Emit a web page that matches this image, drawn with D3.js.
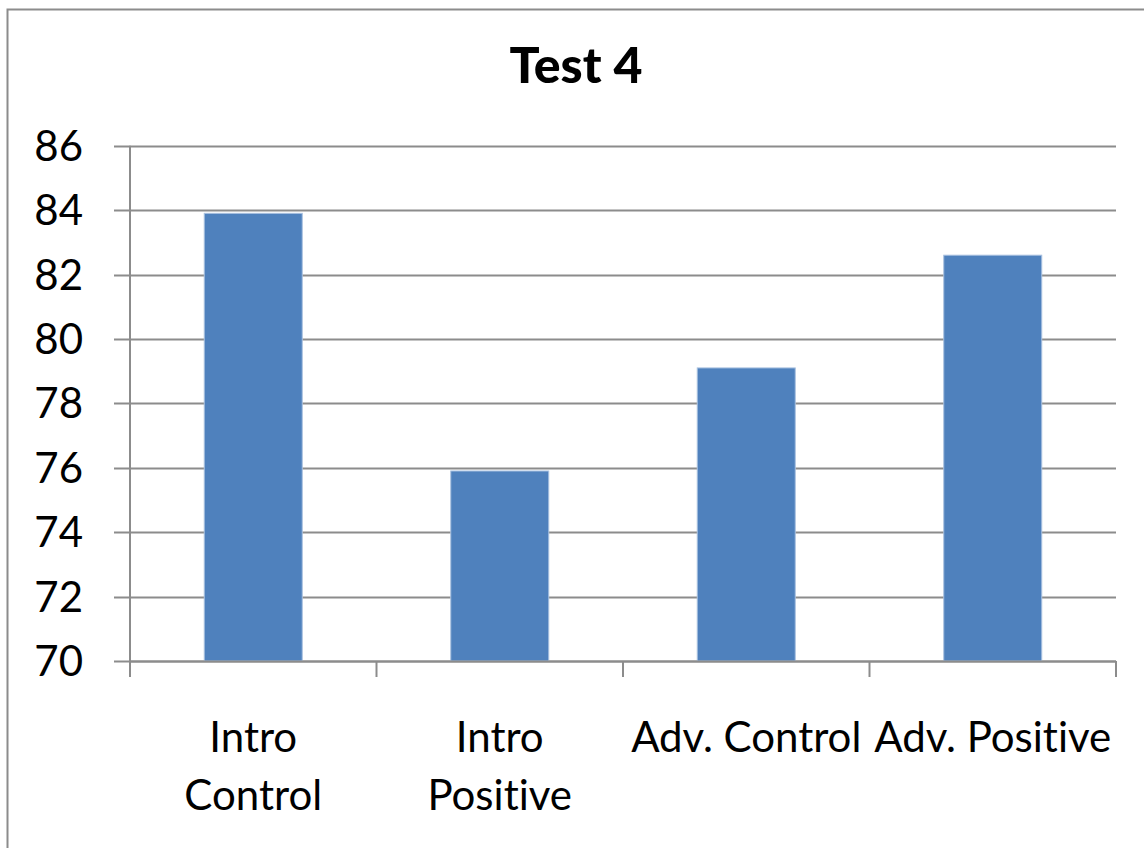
<!DOCTYPE html>
<html>
<head>
<meta charset="utf-8">
<script src="https://cdn.jsdelivr.net/npm/d3@7"></script>
<style>
  html, body { margin: 0; padding: 0; background: #fff; }
  svg { display: block; }
  text { font-family: Lato, "Open Sans", sans-serif; fill: #000; font-variant-ligatures: none; font-feature-settings: "liga" 0; }
</style>
</head>
<body>
<svg id="chart" width="1144" height="848"></svg>
<script>
const title = "Test 4";
const categories = ["Intro Control", "Intro Positive", "Adv. Control", "Adv. Positive"];
const categoryLabelLines = [["Intro", "Control"], ["Intro", "Positive"], ["Adv. Control"], ["Adv. Positive"]];
const values = [83.9, 75.9, 79.1, 82.6];
const yTicks = [70, 72, 74, 76, 78, 80, 82, 84, 86];

const svg = d3.select("#chart");
const W = 1144, H = 848;
const plot = { left: 130, right: 1116, top: 145.7, bottom: 661 };
const gridColor = "#8c8c8c";

// chart border
svg.append("rect")
  .attr("x", 7.5).attr("y", 9.5)
  .attr("width", W).attr("height", H)
  .attr("fill", "#fff").attr("stroke", "#8c8c8c").attr("stroke-width", 2);

const x = d3.scaleBand().domain(categories).range([plot.left, plot.right]).paddingInner(0).paddingOuter(0);
const y = d3.scaleLinear().domain([70, 86]).range([plot.bottom, plot.top]);

// gridlines
svg.append("g").selectAll("line").data(yTicks).join("line")
  .attr("x1", plot.left - 16).attr("x2", plot.right)
  .attr("y1", d => Math.round(y(d)) + 0.5).attr("y2", d => Math.round(y(d)) + 0.5)
  .attr("stroke", gridColor).attr("stroke-width", 2);

// y axis line
svg.append("line")
  .attr("x1", plot.left).attr("x2", plot.left)
  .attr("y1", plot.top).attr("y2", plot.bottom + 16)
  .attr("stroke", gridColor).attr("stroke-width", 2);

// y tick labels
svg.append("g").selectAll("text").data(yTicks).join("text")
  .attr("x", 83).attr("y", d => y(d) + 15)
  .attr("text-anchor", "end")
  .attr("font-size", 42)
  .text(d => d);

// bars
const barW = 98;
svg.append("g").selectAll("rect").data(values).join("rect")
  .attr("x", (d, i) => x(categories[i]) + x.bandwidth() / 2 - barW / 2)
  .attr("width", barW)
  .attr("y", d => y(d))
  .attr("height", d => y(70) - y(d))
  .attr("fill", "#4f81bd")
  .attr("stroke", "#a9c1e0").attr("stroke-width", 1);

// x axis line + ticks
svg.append("line")
  .attr("x1", plot.left).attr("x2", plot.right)
  .attr("y1", plot.bottom + 0.5).attr("y2", plot.bottom + 0.5)
  .attr("stroke", gridColor).attr("stroke-width", 2);
const bounds = categories.map(c => x(c)).concat([plot.right]);
svg.append("g").selectAll("line").data(bounds).join("line")
  .attr("x1", d => d).attr("x2", d => d)
  .attr("y1", plot.bottom).attr("y2", plot.bottom + 16)
  .attr("stroke", gridColor).attr("stroke-width", 2);

// category labels
const lab = svg.append("g").selectAll("text").data(categories).join("text")
  .attr("text-anchor", "middle")
  .attr("font-size", 42)
  .attr("x", d => x(d) + x.bandwidth() / 2)
  .attr("y", 752);
lab.each(function(d, i) {
  const t = d3.select(this);
  categoryLabelLines[i].forEach((line, j) => {
    t.append("tspan")
      .attr("x", x(d) + x.bandwidth() / 2)
      .attr("y", 752 + j * 58)
      .text(line);
  });
});

// title
svg.append("text")
  .attr("x", 576).attr("y", 83)
  .attr("text-anchor", "middle")
  .attr("font-size", 50)
  .attr("font-weight", 900)
  .text(title);
</script>
</body>
</html>
